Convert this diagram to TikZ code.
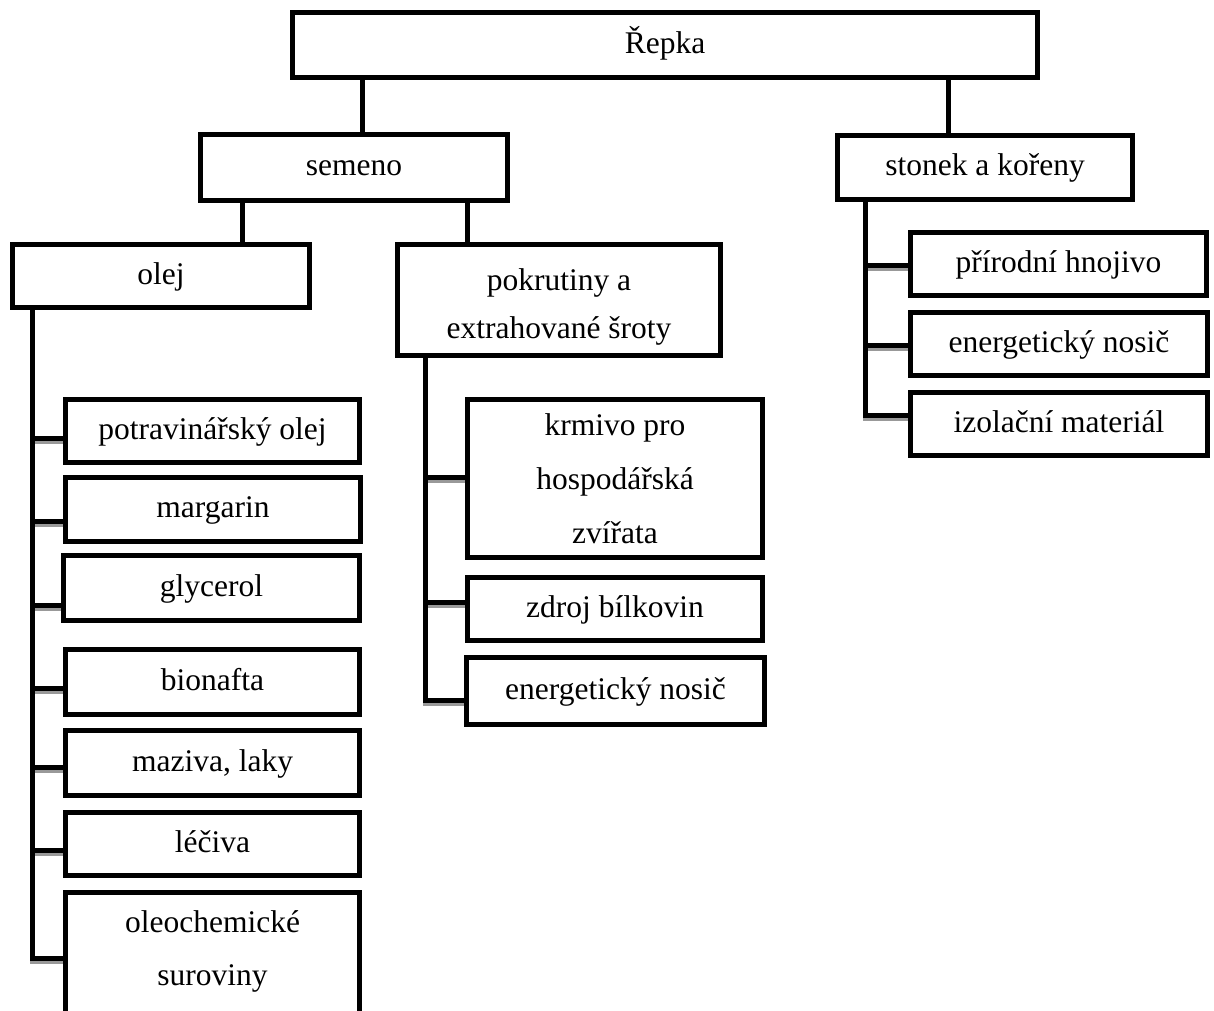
\documentclass[tikz,border=0pt]{standalone}
\usepackage{fontspec}
\setmainfont{Liberation Serif}
\usetikzlibrary{backgrounds}
\newcommand\drawconns[1]{%
  \draw[#1] (repka.south -| xA) -- (semeno.north -| xA);
  \draw[#1] (repka.south -| xB) -- (stonek.north -| xB);
  \draw[#1] (semeno.south -| xC) -- (olej.north -| xC);
  \draw[#1] (semeno.south -| xD) -- (pokr.north -| xD);
  % left bus
  \draw[#1] (olej.south -| bL) -- (bL |- yOle) -- (oleo.west |- yOle);
  \draw[#1] (bL |- yPot) -- (pot.west |- yPot);
  \draw[#1] (bL |- yMar) -- (mar.west |- yMar);
  \draw[#1] (bL |- yGly) -- (gly.west |- yGly);
  \draw[#1] (bL |- yBio) -- (bio.west |- yBio);
  \draw[#1] (bL |- yMaz) -- (maz.west |- yMaz);
  \draw[#1] (bL |- yLec) -- (lec.west |- yLec);
  % middle bus
  \draw[#1] (pokr.south -| bM) -- (bM |- yEnM) -- (enM.west |- yEnM);
  \draw[#1] (bM |- yKrm) -- (krm.west |- yKrm);
  \draw[#1] (bM |- yZdr) -- (zdr.west |- yZdr);
  % right bus
  \draw[#1] (stonek.south -| bR) -- (bR |- yIzo) -- (izo.west |- yIzo);
  \draw[#1] (bR |- yHno) -- (hno.west |- yHno);
  \draw[#1] (bR |- yEnR) -- (enR.west |- yEnR);
}
\begin{document}
\begin{tikzpicture}[x=1pt,y=-1pt,
  box/.style={draw, line width=5pt, fill=white, inner sep=0pt,
    font=\fontsize{31.5}{40}\selectfont},
  one/.style={box, text height=23.5pt, text depth=7.5pt},
  txt/.style={align=center, inner sep=0pt},
  conn/.style={line width=5pt, draw=black},
  shad/.style={line width=5pt, draw=black!40, transform canvas={yshift=-3pt}}]
\useasboundingbox (0,0) rectangle (1214,1010);
\clip (0,0) rectangle (1214,1010);

% top levels
\node[one, minimum width=745pt, minimum height=65pt] (repka) at (665,45) {Řepka};
\node[one, minimum width=307pt, minimum height=66pt] (semeno) at (354,167.5) {semeno};
\node[one, minimum width=295pt, minimum height=64pt] (stonek) at (985,167.5) {stonek a kořeny};
\node[one, minimum width=297pt, minimum height=63pt] (olej) at (161,276) {olej};
\node[box, minimum width=323pt, minimum height=111pt] (pokr) at (559,300) {};
\node[txt, font=\fontsize{31.5}{48}\selectfont] (pokrT) at (559,307) {pokrutiny a\\extrahované šroty};

% right column
\node[one, minimum width=296pt, minimum height=63pt] (hno) at (1058.5,264) {přírodní hnojivo};
\node[one, minimum width=297pt, minimum height=63pt] (enR) at (1059,344) {energetický nosič};
\node[one, minimum width=297pt, minimum height=63pt] (izo) at (1059,424) {izolační materiál};

% left column
\node[one, minimum width=294pt, minimum height=63pt] (pot) at (212.5,431) {potravinářský olej};
\node[one, minimum width=295pt, minimum height=64pt] (mar) at (213,509.5) {margarin};
\node[one, minimum width=296pt, minimum height=65pt] (gly) at (211.5,588) {glycerol};
\node[one, minimum width=294pt, minimum height=65pt] (bio) at (212.5,682) {bionafta};
\node[one, minimum width=294pt, minimum height=65pt] (maz) at (212.5,763) {maziva, laky};
\node[one, minimum width=294pt, minimum height=63pt] (lec) at (212.5,844) {léčiva};
\node[box, minimum width=294pt, minimum height=145pt] (oleo) at (212.5,965) {};
\node[txt, font=\fontsize{31.5}{53}\selectfont] (oleoT) at (212.5,951) {oleochemické\\suroviny};

% middle column
\node[box, align=center, font=\fontsize{31.5}{54}\selectfont, minimum width=295pt, minimum height=158pt] (krm) at (615,478.5) {krmivo pro\\hospodářská\\zvířata};
\node[one, minimum width=295pt, minimum height=63pt] (zdr) at (615,609) {zdroj bílkovin};
\node[one, minimum width=298pt, minimum height=67pt] (enM) at (615.5,691) {energetický nosič};

% connector reference coordinates
\coordinate (xA) at (362,0);
\coordinate (xB) at (948,0);
\coordinate (xC) at (242,0);
\coordinate (xD) at (467,0);
\coordinate (bL) at (32,0);
\coordinate (bM) at (425,0);
\coordinate (bR) at (865,0);
\coordinate (yPot) at (0,438);
\coordinate (yMar) at (0,521);
\coordinate (yGly) at (0,605);
\coordinate (yBio) at (0,688);
\coordinate (yMaz) at (0,767);
\coordinate (yLec) at (0,850);
\coordinate (yOle) at (0,958);
\coordinate (yKrm) at (0,477);
\coordinate (yZdr) at (0,602);
\coordinate (yEnM) at (0,700);
\coordinate (yHno) at (0,265);
\coordinate (yEnR) at (0,345);
\coordinate (yIzo) at (0,415);

\begin{scope}[on background layer]
  \drawconns{shad}
  \drawconns{conn}
\end{scope}
\end{tikzpicture}
\end{document}
